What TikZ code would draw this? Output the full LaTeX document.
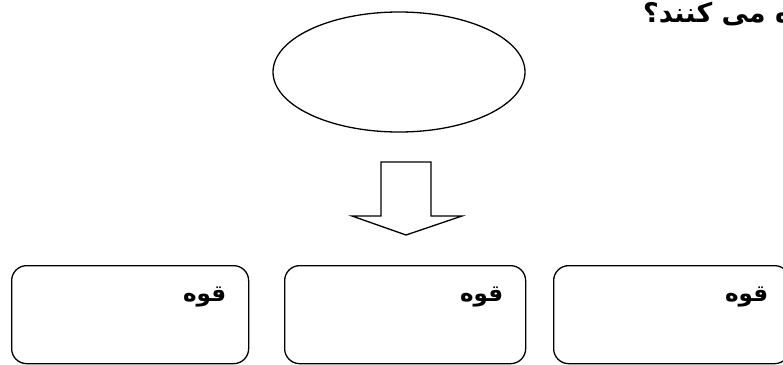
\documentclass[tikz,border=0pt]{standalone}
\usepackage{fontspec}
\usetikzlibrary{shapes.geometric}
\TeXXeTstate=1
\newfontfamily\arabicfont[Script=Arabic]{DejaVu Sans}
\begin{document}
\begin{tikzpicture}[x=1pt,y=-1pt,
  line/.style={draw=black,line width=1.3pt},
  card/.style={line,rectangle,rounded corners=15pt,minimum width=237pt,minimum height=98pt,inner sep=0pt,anchor=north west},
  lbl/.style={font=\arabicfont\bfseries\fontsize{23}{26}\selectfont,anchor=east,inner sep=0pt},
  title/.style={font=\arabicfont\bfseries\fontsize{27}{30}\selectfont,anchor=base west,inner sep=0pt}]
\useasboundingbox (0,0) rectangle (783,364);
\node[line,ellipse,minimum width=252pt,minimum height=120pt,inner sep=0pt] (ell) at (399,72) {};
\node[title] (ttl) at (643,22) {\beginR ه می کنند؟\endR};
\coordinate (a1) at (381,162);
\coordinate (a2) at (431,162);
\coordinate (a3) at (431,216);
\coordinate (a4) at (462,216);
\coordinate (tip) at (406,235);
\coordinate (a6) at (352,216);
\coordinate (a7) at (381,216);
\draw[line,line join=miter] (a1) -- (a2) -- (a3) -- (a4) -- (tip) -- (a6) -- (a7) -- cycle;
\node[card] (b1) at (11,265) {};
\node[card,minimum width=241pt] (b2) at (284,265) {};
\node[card,minimum width=236pt] (b3) at (553,265) {};
\node[lbl] (t1) at ([xshift=-23pt,yshift=-32pt]b1.north east) {\beginR قوه\endR};
\node[lbl] (t2) at ([xshift=-23pt,yshift=-32pt]b2.north east) {\beginR قوه\endR};
\node[lbl] (t3) at ([xshift=-22pt,yshift=-32pt]b3.north east) {\beginR قوه\endR};
\end{tikzpicture}
\end{document}
